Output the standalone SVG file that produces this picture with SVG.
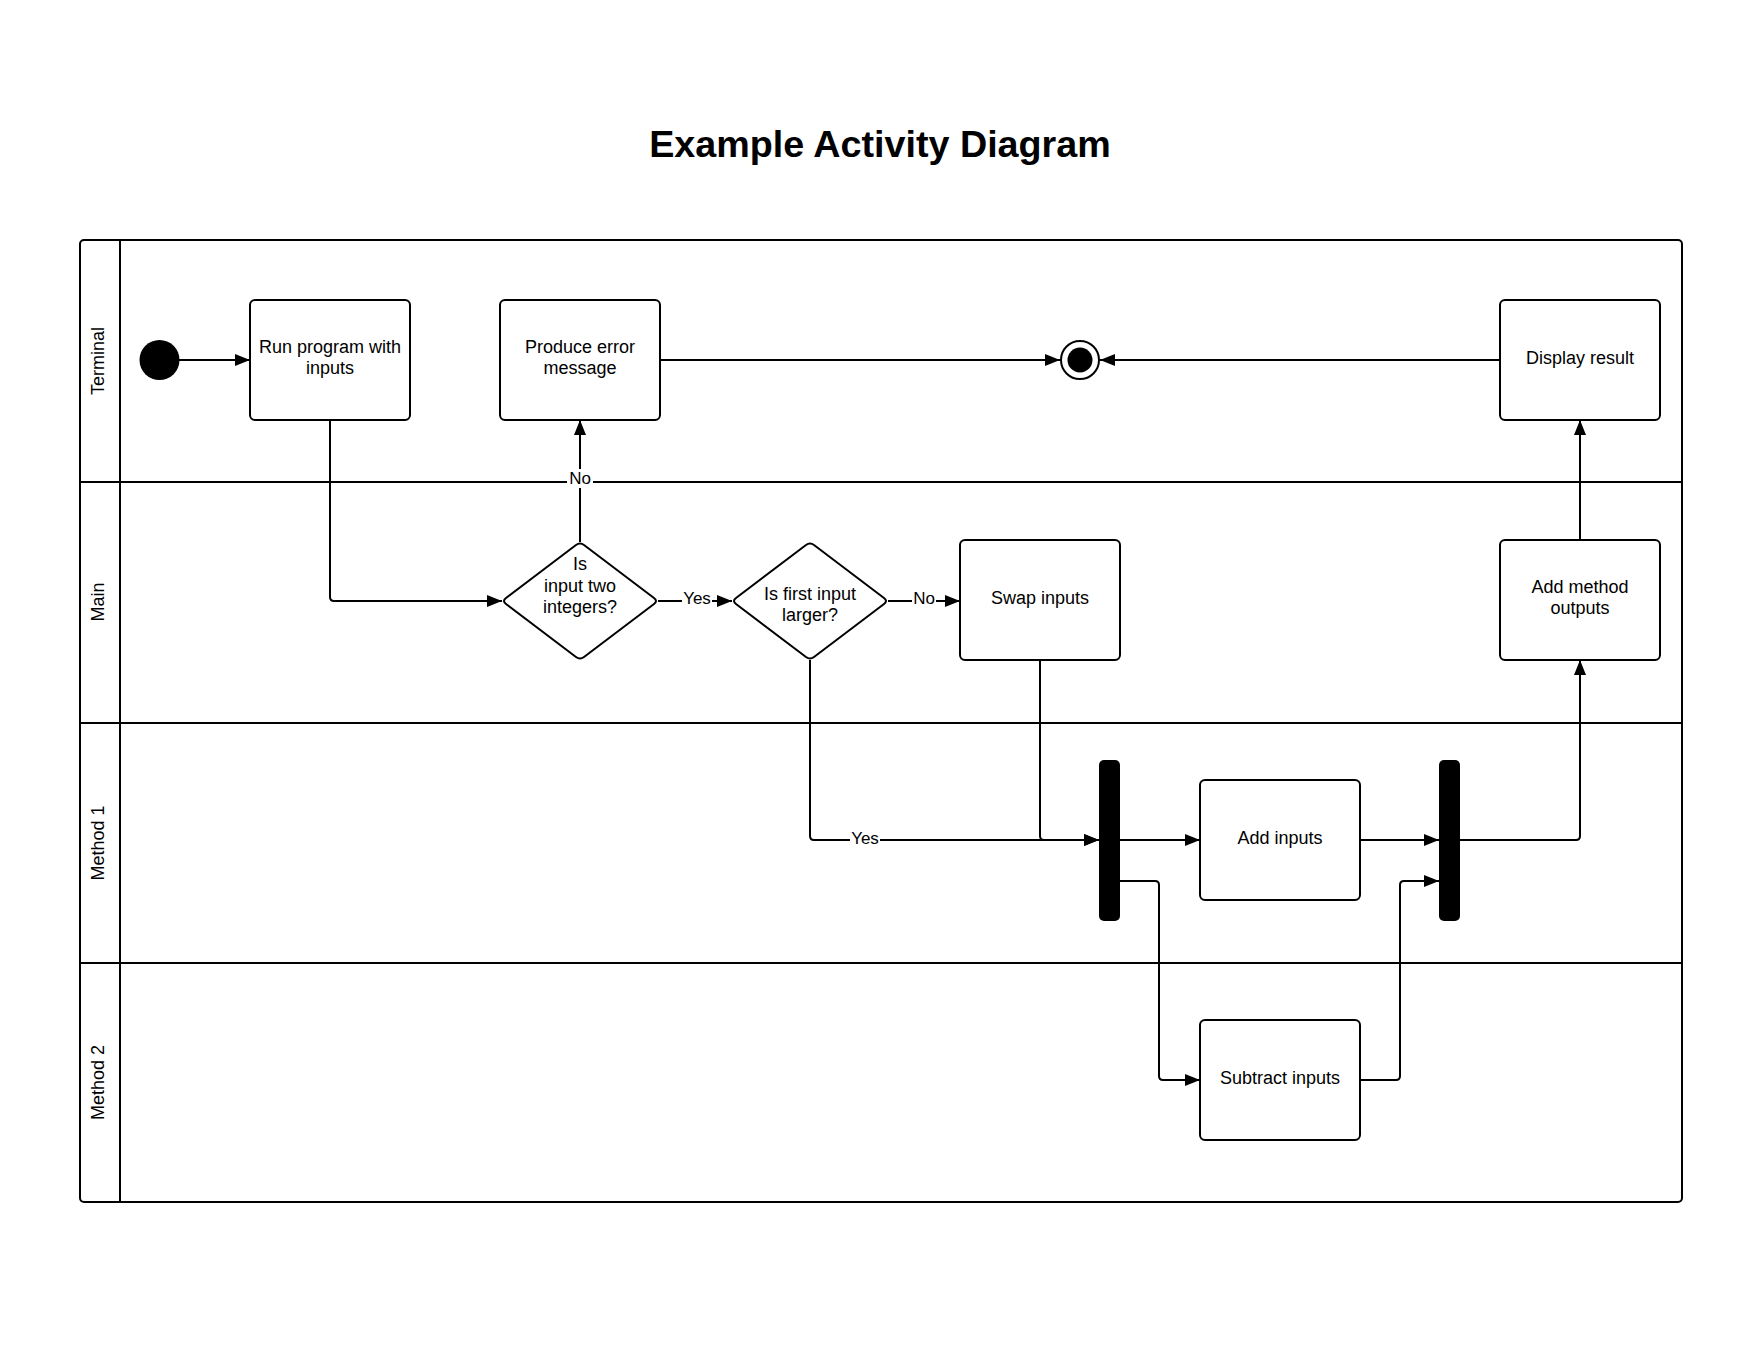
<svg xmlns="http://www.w3.org/2000/svg" width="1760" height="1360" viewBox="0 0 1760 1360">
<style>
text { font-family: "Liberation Sans", Arial, sans-serif; fill: #000; text-anchor: middle; }
.t { font-size: 18px; }
.lbl { font-size: 17px; }
.lane { font-size: 18px; }
.title { font-size: 37.7px; font-weight: bold; }
.box { fill: #fff; stroke: #000; stroke-width: 2; }
.frame { fill: none; stroke: #000; stroke-width: 2; }
.ln { fill: none; stroke: #000; stroke-width: 2; }
.bar { fill: #000; stroke: none; }
.conn { fill: none; stroke: #000; stroke-width: 2; marker-end: url(#arrow); }
.lblbg { fill: #fff; stroke: none; }
</style>
<defs>
<marker id="arrow" markerUnits="userSpaceOnUse" markerWidth="16" markerHeight="14" refX="15" refY="6" orient="auto">
<path d="M0,0 L15,6 L0,12 Z" fill="#000"/>
</marker>
</defs>
<rect width="1760" height="1360" fill="#fff"/>
<text class="title" x="880" y="157">Example Activity Diagram</text>

<g id="lanes">
<rect class="frame" x="80" y="240" width="1602" height="962" rx="4"/>
<line class="ln" x1="120" y1="240" x2="120" y2="1202"/>
<line class="ln" x1="80" y1="482" x2="1682" y2="482"/>
<line class="ln" x1="80" y1="723" x2="1682" y2="723"/>
<line class="ln" x1="80" y1="963" x2="1682" y2="963"/>
<text class="lane" transform="translate(104,361) rotate(-90)">Terminal</text>
<text class="lane" transform="translate(104,602) rotate(-90)">Main</text>
<text class="lane" transform="translate(104,843) rotate(-90)">Method 1</text>
<text class="lane" transform="translate(104,1082.5) rotate(-90)">Method 2</text>
</g>

<g id="connectors">
<path class="conn" d="M179,360 H250"/>
<path class="conn" d="M330,420 V597 Q330,601 334,601 H502"/>
<path class="conn" d="M580,542 V420"/>
<path class="conn" d="M660,360 H1060"/>
<path class="conn" d="M1500,360 H1100"/>
<path class="conn" d="M658,601 H732"/>
<path class="conn" d="M888,601 H960"/>
<path class="conn" d="M810,660 V836 Q810,840 814,840 H1099"/>
<path class="conn" d="M1040,660 V836 Q1040,840 1044,840 H1099"/>
<path class="conn" d="M1120,840 H1200"/>
<path class="conn" d="M1120,881 H1155 Q1159,881 1159,885 V1076 Q1159,1080 1163,1080 H1200"/>
<path class="conn" d="M1360,840 H1439"/>
<path class="conn" d="M1360,1080 H1396 Q1400,1080 1400,1076 V885 Q1400,881 1404,881 H1439"/>
<path class="conn" d="M1460,840 H1576 Q1580,840 1580,836 V660"/>
<path class="conn" d="M1580,540 V420"/>
<rect class="lblbg" x="567" y="469" width="26" height="19"/>
<text class="lbl" x="580" y="484">No</text>
<rect class="lblbg" x="682" y="591" width="30" height="18"/>
<text class="lbl" x="697" y="604">Yes</text>
<rect class="lblbg" x="912" y="591" width="24" height="18"/>
<text class="lbl" x="924" y="604">No</text>
<rect class="lblbg" x="850" y="830" width="30" height="18"/>
<text class="lbl" x="865" y="844">Yes</text>
</g>

<g id="start">
<circle cx="159.5" cy="360" r="20" fill="#000"/>
</g>
<g id="run-program">
<rect class="box" x="250" y="300" width="160" height="120" rx="5"/>
<text class="t" x="330" y="352.5">Run program with</text>
<text class="t" x="330" y="373.5">inputs</text>
</g>
<g id="produce-error">
<rect class="box" x="500" y="300" width="160" height="120" rx="5"/>
<text class="t" x="580" y="352.5">Produce error</text>
<text class="t" x="580" y="373.5">message</text>
</g>
<g id="end">
<circle cx="1080" cy="360" r="19" fill="#fff" stroke="#000" stroke-width="2"/>
<circle cx="1080" cy="360" r="12.5" fill="#000"/>
</g>
<g id="display-result">
<rect class="box" x="1500" y="300" width="160" height="120" rx="5"/>
<text class="t" x="1580" y="363.5">Display result</text>
</g>
<g id="decision-integers">
<path class="box" d="M576,545 Q580,542 584,545 L654,598 Q658,601 654,604 L584,657 Q580,660 576,657 L506,604 Q502,601 506,598 Z"/>
<text class="t" x="580" y="570">Is</text>
<text class="t" x="580" y="591.5">input two</text>
<text class="t" x="580" y="613">integers?</text>
</g>
<g id="decision-larger">
<path class="box" d="M806,545 Q810,542 814,545 L884,598 Q888,601 884,604 L814,657 Q810,660 806,657 L736,604 Q732,601 736,598 Z"/>
<text class="t" x="810" y="600">Is first input</text>
<text class="t" x="810" y="621">larger?</text>
</g>
<g id="swap-inputs">
<rect class="box" x="960" y="540" width="160" height="120" rx="5"/>
<text class="t" x="1040" y="603.5">Swap inputs</text>
</g>
<g id="add-method-outputs">
<rect class="box" x="1500" y="540" width="160" height="120" rx="5"/>
<text class="t" x="1580" y="592.5">Add method</text>
<text class="t" x="1580" y="613.5">outputs</text>
</g>
<g id="fork">
<rect class="bar" x="1099" y="760" width="21" height="161" rx="5"/>
</g>
<g id="add-inputs">
<rect class="box" x="1200" y="780" width="160" height="120" rx="5"/>
<text class="t" x="1280" y="844">Add inputs</text>
</g>
<g id="join">
<rect class="bar" x="1439" y="760" width="21" height="161" rx="5"/>
</g>
<g id="subtract-inputs">
<rect class="box" x="1200" y="1020" width="160" height="120" rx="5"/>
<text class="t" x="1280" y="1084">Subtract inputs</text>
</g>
</svg>
